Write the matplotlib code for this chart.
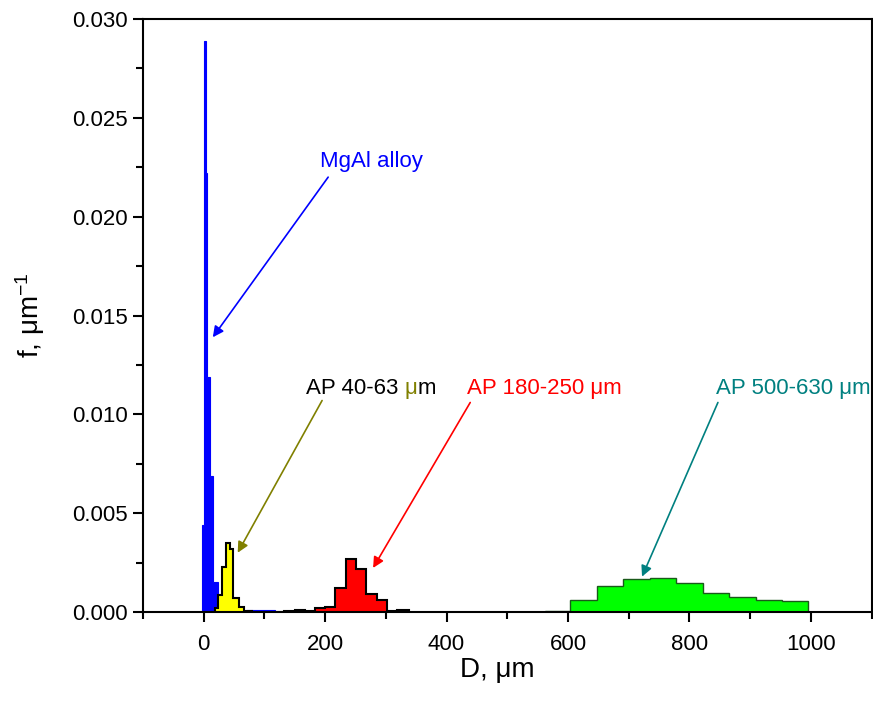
import numpy as np
import matplotlib
matplotlib.use('Agg')
import matplotlib.pyplot as plt
from matplotlib.ticker import MultipleLocator, FormatStrFormatter

plt.rcParams['font.family'] = ['Liberation Sans', 'DejaVu Sans']
plt.rcParams['mathtext.default'] = 'regular'

# MgAl alloy (blue spikes)
mgal_edges = [-3, 0, 3, 5, 6, 10, 16, 23, 40, 70, 118]
mgal_f = [0.0044, 0.0289, 0.0222, 0.0167, 0.0119, 0.0069, 0.0015, 0.0003, 0.00005, 0.0001]

# AP 40-63 um (yellow)
ap40_edges = [18, 23.5, 30.5, 37, 43.5, 48, 58, 67, 80]
ap40_f = [0.0002, 0.00086, 0.0023, 0.0035, 0.0032, 0.0007, 0.00025, 0.00004]

# AP 180-250 um (red)
ap180_edges = [116, 133, 150, 167, 184, 200, 217, 234, 251, 268, 285, 302, 319, 338]
ap180_f = [0.00002, 0.00003, 0.0001, 0.00003, 0.0002, 0.00027, 0.00123, 0.00269,
           0.00218, 0.0009, 0.0006, 0.00007, 0.0001]

# AP 500-630 um (green)
ap500_edges = [562, 604, 648, 691, 735, 778, 822, 866, 910, 953, 996]
ap500_f = [0.00007, 0.00061, 0.00132, 0.00167, 0.00174, 0.00145, 0.00095,
           0.00074, 0.00061, 0.00056]

fig = plt.figure(figsize=(8.73, 7.06), dpi=100)
ax = fig.add_axes([0.1638, 0.1331, 0.8345, 0.84])

ax.stairs(mgal_f, mgal_edges, fill=True, facecolor='#0000ff', edgecolor='#0000ff', linewidth=0.8)
ax.stairs(ap40_f, ap40_edges, fill=True, facecolor='#ffff00', edgecolor='black', linewidth=1.5)
ax.stairs(ap180_f, ap180_edges, fill=True, facecolor='#ff0000', edgecolor='black', linewidth=1.5)
ax.stairs(ap500_f, ap500_edges, fill=True, facecolor='#00ff00', edgecolor='#1a5a1a', linewidth=1.0)

ax.set_xlim(-100, 1100)
ax.set_ylim(0, 0.030)
ax.xaxis.set_major_locator(MultipleLocator(200))
ax.xaxis.set_minor_locator(MultipleLocator(100))
ax.yaxis.set_major_locator(MultipleLocator(0.005))
ax.yaxis.set_minor_locator(MultipleLocator(0.0025))
ax.yaxis.set_major_formatter(FormatStrFormatter('%.3f'))
ax.tick_params(which='major', direction='out', length=7, width=1.5, labelsize=16)
ax.tick_params(axis='x', which='major', pad=9)
ax.tick_params(axis='y', which='major', pad=4)
ax.tick_params(which='minor', direction='out', length=5, width=1.5)
for s in ax.spines.values():
    s.set_linewidth(1.5)

ax.set_xlabel('D, μm', fontsize=20)
ax.xaxis.set_label_coords(0.486, -0.075)
ax.set_ylabel('f, μm$^{-1}$', fontsize=20)
ax.yaxis.set_label_coords(-0.132, 0.5)

arrow = dict(arrowstyle='-|>', lw=1.2, mutation_scale=16, shrinkA=0, shrinkB=0)

# MgAl alloy
ax.annotate('', xy=(15, 0.0139), xytext=(205, 0.0220),
            arrowprops=dict(arrow, color='#0000ff'))
ax.text(192, 0.0228, 'MgAl alloy', color='#0000ff', fontsize=16, va='center')

# AP 40-63
ax.annotate('', xy=(56, 0.0030), xytext=(195, 0.0107),
            arrowprops=dict(arrow, color='#808000'))
t1 = ax.text(168, 0.0113, 'AP 40-63', color='black', fontsize=16, va='center')
t2 = ax.annotate('μ', xy=(1, 0), xycoords=t1, xytext=(4.5, 0), textcoords='offset points',
                 color='#808000', fontsize=16, va='bottom')
ax.annotate('m', xy=(1, 0), xycoords=t2, color='black', fontsize=16, va='bottom')

# AP 180-250
ax.annotate('', xy=(279, 0.00223), xytext=(439, 0.0106),
            arrowprops=dict(arrow, color='#ff0000'))
ax.text(433, 0.0113, 'AP 180-250 μm', color='#ff0000', fontsize=16, va='center')

# AP 500-630
ax.annotate('', xy=(722, 0.00179), xytext=(847, 0.0106),
            arrowprops=dict(arrow, color='#008080'))
ax.text(844, 0.0113, 'AP 500-630 μm', color='#008080', fontsize=16, va='center')

fig.savefig('out.png', dpi=100)
